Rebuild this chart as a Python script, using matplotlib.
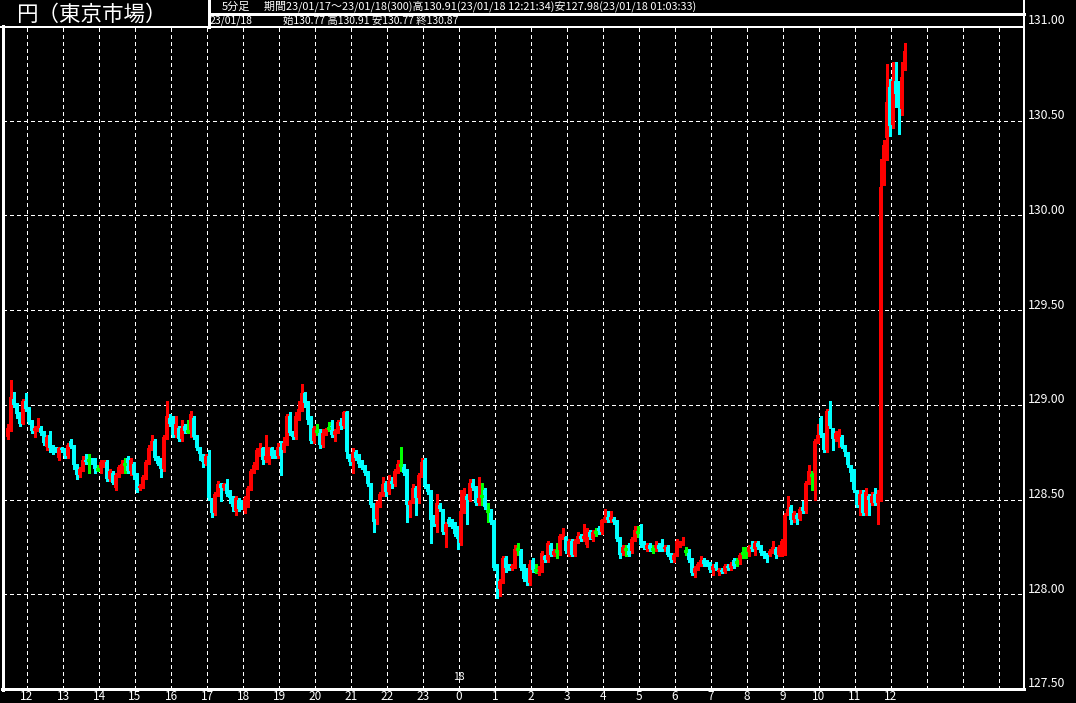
import numpy as np
import matplotlib
matplotlib.use('Agg')
import matplotlib.pyplot as plt
from matplotlib.lines import Line2D

plt.rcParams['font.family'] = ['Noto Sans CJK JP', 'DejaVu Sans']

# 5分足 23/01/17 11:25 ～ 23/01/18 12:20 (300本)
opens = [
    128.83, 128.88, 129.03, 128.99, 128.95, 128.90, 129.02, 128.97, 128.91, 128.86,
    128.87, 128.88, 128.85, 128.78, 128.84, 128.77, 128.77, 128.72, 128.77, 128.76,
    128.73, 128.81, 128.78, 128.68, 128.63, 128.66, 128.71, 128.71, 128.71, 128.71,
    128.66, 128.66, 128.69, 128.70, 128.61, 128.64, 128.56, 128.63, 128.65, 128.69,
    128.72, 128.65, 128.69, 128.63, 128.56, 128.57, 128.62, 128.70, 128.77, 128.81,
    128.72, 128.71, 128.66, 128.83, 128.93, 128.93, 128.84, 128.88, 128.82, 128.89,
    128.86, 128.86, 128.93, 128.83, 128.77, 128.73, 128.69, 128.73, 128.50, 128.43,
    128.53, 128.58, 128.56, 128.58, 128.53, 128.51, 128.44, 128.50, 128.49, 128.44,
    128.47, 128.56, 128.65, 128.68, 128.76, 128.77, 128.71, 128.73, 128.77, 128.75,
    128.73, 128.78, 128.76, 128.80, 128.94, 128.85, 128.83, 128.94, 128.98, 129.06,
    129.01, 128.93, 128.81, 128.86, 128.86, 128.79, 128.85, 128.88, 128.89, 128.84,
    128.86, 128.91, 128.89, 128.96, 128.73, 128.70, 128.75, 128.72, 128.70, 128.67,
    128.64, 128.58, 128.47, 128.40, 128.48, 128.53, 128.59, 128.54, 128.60, 128.58,
    128.65, 128.68, 128.68, 128.65, 128.47, 128.49, 128.56, 128.51, 128.63, 128.71,
    128.57, 128.54, 128.41, 128.37, 128.47, 128.44, 128.33, 128.40, 128.39, 128.37,
    128.35, 128.27, 128.44, 128.52, 128.50, 128.59, 128.56, 128.48, 128.52, 128.55,
    128.44, 128.44, 128.38, 128.15, 128.03, 128.07, 128.19, 128.15, 128.14, 128.15,
    128.24, 128.23, 128.15, 128.13, 128.06, 128.18, 128.13, 128.11, 128.14, 128.20,
    128.18, 128.26, 128.21, 128.23, 128.22, 128.30, 128.30, 128.21, 128.28, 128.21,
    128.28, 128.31, 128.29, 128.26, 128.33, 128.29, 128.33, 128.35, 128.33, 128.39,
    128.41, 128.39, 128.40, 128.38, 128.29, 128.22, 128.24, 128.26, 128.23, 128.29,
    128.33, 128.32, 128.27, 128.24, 128.26, 128.24, 128.24, 128.26, 128.26, 128.24,
    128.25, 128.21, 128.18, 128.21, 128.26, 128.27, 128.23, 128.23, 128.18, 128.11,
    128.14, 128.16, 128.18, 128.17, 128.16, 128.13, 128.16, 128.12, 128.13, 128.12,
    128.15, 128.14, 128.18, 128.17, 128.18, 128.22, 128.22, 128.21, 128.25, 128.24,
    128.27, 128.25, 128.22, 128.21, 128.21, 128.23, 128.24, 128.21, 128.25, 128.28,
    128.43, 128.46, 128.39, 128.42, 128.40, 128.46, 128.44, 128.59, 128.63, 128.64,
    128.81, 128.93, 128.84, 128.76, 128.97, 128.87, 128.82, 128.85, 128.83, 128.78,
    128.73, 128.67, 128.65, 128.54, 128.47, 128.53, 128.43, 128.52, 128.48, 128.53,
    128.48, 128.54, 130.17, 130.41, 130.68, 130.48, 130.71, 130.63, 130.56, 130.77,
]
highs = [
    128.90, 129.13, 129.07, 129.01, 128.96, 129.03, 129.06, 128.99, 128.92, 128.89,
    128.93, 128.89, 128.86, 128.84, 128.86, 128.79, 128.78, 128.78, 128.78, 128.77,
    128.80, 128.82, 128.79, 128.69, 128.67, 128.73, 128.74, 128.74, 128.72, 128.72,
    128.68, 128.71, 128.71, 128.71, 128.66, 128.65, 128.64, 128.68, 128.71, 128.72,
    128.73, 128.72, 128.70, 128.64, 128.58, 128.63, 128.71, 128.79, 128.84, 128.82,
    128.73, 128.72, 128.84, 129.02, 128.95, 128.94, 128.94, 128.89, 128.92, 128.90,
    128.92, 128.97, 128.94, 128.84, 128.78, 128.74, 128.74, 128.76, 128.51, 128.54,
    128.60, 128.59, 128.59, 128.61, 128.55, 128.52, 128.52, 128.51, 128.50, 128.52,
    128.57, 128.66, 128.70, 128.77, 128.80, 128.78, 128.84, 128.78, 128.78, 128.76,
    128.80, 128.81, 128.83, 128.95, 128.96, 128.86, 128.96, 129.02, 129.11, 129.07,
    129.02, 128.94, 128.89, 128.90, 128.87, 128.87, 128.88, 128.91, 128.92, 128.87,
    128.92, 128.93, 128.97, 128.97, 128.74, 128.77, 128.76, 128.74, 128.71, 128.68,
    128.65, 128.59, 128.48, 128.49, 128.54, 128.62, 128.60, 128.63, 128.62, 128.66,
    128.71, 128.78, 128.69, 128.66, 128.50, 128.58, 128.57, 128.64, 128.72, 128.72,
    128.58, 128.55, 128.42, 128.53, 128.48, 128.45, 128.38, 128.41, 128.40, 128.38,
    128.36, 128.55, 128.56, 128.53, 128.61, 128.61, 128.57, 128.62, 128.59, 128.56,
    128.48, 128.45, 128.39, 128.16, 128.08, 128.20, 128.20, 128.16, 128.16, 128.26,
    128.27, 128.24, 128.16, 128.14, 128.18, 128.19, 128.16, 128.15, 128.23, 128.21,
    128.28, 128.27, 128.24, 128.27, 128.32, 128.35, 128.31, 128.29, 128.29, 128.29,
    128.33, 128.32, 128.37, 128.35, 128.34, 128.34, 128.35, 128.36, 128.40, 128.45,
    128.44, 128.44, 128.41, 128.39, 128.30, 128.26, 128.26, 128.27, 128.30, 128.36,
    128.36, 128.37, 128.28, 128.27, 128.27, 128.26, 128.28, 128.27, 128.29, 128.26,
    128.26, 128.22, 128.22, 128.29, 128.28, 128.30, 128.25, 128.24, 128.19, 128.15,
    128.17, 128.20, 128.19, 128.18, 128.17, 128.16, 128.17, 128.14, 128.14, 128.16,
    128.16, 128.17, 128.19, 128.19, 128.22, 128.25, 128.25, 128.26, 128.28, 128.28,
    128.28, 128.26, 128.23, 128.22, 128.24, 128.28, 128.25, 128.26, 128.29, 128.43,
    128.52, 128.47, 128.44, 128.43, 128.46, 128.49, 128.60, 128.68, 128.65, 128.82,
    128.90, 128.94, 128.85, 128.98, 129.02, 128.88, 128.86, 128.87, 128.84, 128.79,
    128.75, 128.68, 128.66, 128.55, 128.55, 128.55, 128.56, 128.53, 128.54, 128.56,
    128.55, 130.30, 130.40, 130.80, 130.72, 130.81, 130.81, 130.71, 130.81, 130.91,
]
lows = [
    128.82, 128.86, 128.99, 128.93, 128.89, 128.90, 128.97, 128.90, 128.85, 128.83,
    128.86, 128.84, 128.79, 128.76, 128.75, 128.74, 128.75, 128.71, 128.75, 128.72,
    128.72, 128.77, 128.66, 128.61, 128.62, 128.65, 128.69, 128.64, 128.69, 128.64,
    128.65, 128.64, 128.67, 128.60, 128.60, 128.58, 128.55, 128.62, 128.64, 128.64,
    128.64, 128.63, 128.61, 128.54, 128.55, 128.56, 128.61, 128.69, 128.76, 128.71,
    128.68, 128.62, 128.65, 128.82, 128.89, 128.83, 128.83, 128.81, 128.81, 128.85,
    128.85, 128.83, 128.82, 128.76, 128.71, 128.67, 128.68, 128.50, 128.41, 128.42,
    128.52, 128.49, 128.55, 128.52, 128.48, 128.44, 128.42, 128.44, 128.45, 128.43,
    128.46, 128.55, 128.64, 128.66, 128.73, 128.69, 128.70, 128.69, 128.72, 128.72,
    128.72, 128.63, 128.75, 128.79, 128.84, 128.82, 128.82, 128.92, 128.97, 128.99,
    128.90, 128.80, 128.80, 128.84, 128.77, 128.78, 128.84, 128.86, 128.83, 128.81,
    128.85, 128.87, 128.88, 128.72, 128.68, 128.64, 128.71, 128.67, 128.66, 128.63,
    128.57, 128.46, 128.33, 128.37, 128.46, 128.52, 128.52, 128.53, 128.56, 128.57,
    128.64, 128.65, 128.63, 128.38, 128.41, 128.48, 128.42, 128.48, 128.62, 128.56,
    128.53, 128.27, 128.36, 128.33, 128.44, 128.32, 128.25, 128.36, 128.35, 128.31,
    128.24, 128.26, 128.43, 128.37, 128.49, 128.55, 128.47, 128.47, 128.47, 128.45,
    128.38, 128.37, 128.13, 127.98, 127.99, 128.06, 128.12, 128.13, 128.13, 128.14,
    128.21, 128.13, 128.07, 128.05, 128.05, 128.12, 128.11, 128.10, 128.12, 128.17,
    128.17, 128.20, 128.20, 128.19, 128.21, 128.29, 128.22, 128.20, 128.20, 128.20,
    128.27, 128.28, 128.28, 128.25, 128.29, 128.28, 128.31, 128.32, 128.32, 128.38,
    128.38, 128.38, 128.37, 128.28, 128.19, 128.21, 128.20, 128.20, 128.22, 128.28,
    128.30, 128.25, 128.24, 128.23, 128.23, 128.22, 128.23, 128.23, 128.23, 128.23,
    128.20, 128.17, 128.17, 128.20, 128.25, 128.26, 128.21, 128.17, 128.10, 128.09,
    128.13, 128.15, 128.15, 128.15, 128.12, 128.10, 128.13, 128.10, 128.11, 128.11,
    128.13, 128.13, 128.14, 128.15, 128.16, 128.19, 128.19, 128.20, 128.23, 128.21,
    128.24, 128.21, 128.19, 128.17, 128.20, 128.22, 128.19, 128.20, 128.20, 128.21,
    128.42, 128.37, 128.38, 128.37, 128.39, 128.43, 128.43, 128.58, 128.55, 128.50,
    128.80, 128.83, 128.75, 128.75, 128.88, 128.76, 128.81, 128.78, 128.77, 128.73,
    128.67, 128.60, 128.54, 128.46, 128.42, 128.42, 128.42, 128.42, 128.47, 128.47,
    128.37, 128.49, 130.16, 130.29, 130.42, 130.46, 130.57, 130.43, 130.53, 130.77,
]
closes = [
    128.88, 129.04, 129.00, 128.95, 128.90, 129.02, 128.98, 128.91, 128.86, 128.88,
    128.88, 128.85, 128.80, 128.83, 128.77, 128.76, 128.76, 128.77, 128.76, 128.73,
    128.79, 128.78, 128.68, 128.63, 128.66, 128.71, 128.70, 128.71, 128.70, 128.66,
    128.66, 128.70, 128.70, 128.61, 128.65, 128.59, 128.63, 128.67, 128.69, 128.69,
    128.65, 128.71, 128.63, 128.55, 128.57, 128.62, 128.70, 128.77, 128.81, 128.72,
    128.69, 128.66, 128.83, 128.94, 128.90, 128.84, 128.90, 128.82, 128.88, 128.86,
    128.86, 128.95, 128.83, 128.77, 128.74, 128.70, 128.73, 128.51, 128.43, 128.53,
    128.58, 128.56, 128.58, 128.53, 128.51, 128.46, 128.51, 128.45, 128.46, 128.51,
    128.56, 128.65, 128.68, 128.76, 128.77, 128.71, 128.73, 128.77, 128.73, 128.73,
    128.78, 128.73, 128.80, 128.94, 128.85, 128.83, 128.94, 128.98, 129.06, 129.01,
    128.92, 128.81, 128.88, 128.86, 128.79, 128.85, 128.87, 128.88, 128.84, 128.86,
    128.91, 128.89, 128.96, 128.75, 128.70, 128.75, 128.72, 128.69, 128.67, 128.64,
    128.58, 128.47, 128.38, 128.48, 128.53, 128.58, 128.54, 128.60, 128.58, 128.65,
    128.69, 128.68, 128.64, 128.47, 128.49, 128.56, 128.51, 128.63, 128.70, 128.57,
    128.54, 128.39, 128.37, 128.48, 128.45, 128.33, 128.37, 128.37, 128.37, 128.32,
    128.29, 128.44, 128.52, 128.50, 128.59, 128.56, 128.48, 128.51, 128.52, 128.46,
    128.44, 128.38, 128.14, 128.13, 128.07, 128.19, 128.14, 128.14, 128.15, 128.24,
    128.24, 128.14, 128.08, 128.10, 128.16, 128.13, 128.13, 128.14, 128.22, 128.18,
    128.27, 128.21, 128.23, 128.23, 128.31, 128.31, 128.23, 128.28, 128.21, 128.28,
    128.31, 128.29, 128.31, 128.33, 128.30, 128.33, 128.33, 128.33, 128.39, 128.41,
    128.39, 128.41, 128.38, 128.29, 128.21, 128.25, 128.24, 128.21, 128.29, 128.34,
    128.33, 128.26, 128.25, 128.26, 128.24, 128.24, 128.26, 128.24, 128.24, 128.25,
    128.21, 128.18, 128.21, 128.28, 128.27, 128.28, 128.23, 128.18, 128.11, 128.14,
    128.16, 128.18, 128.16, 128.16, 128.13, 128.15, 128.14, 128.13, 128.12, 128.15,
    128.14, 128.16, 128.15, 128.17, 128.21, 128.22, 128.22, 128.25, 128.24, 128.27,
    128.25, 128.22, 128.21, 128.20, 128.23, 128.25, 128.21, 128.25, 128.28, 128.42,
    128.45, 128.39, 128.43, 128.40, 128.45, 128.44, 128.59, 128.65, 128.63, 128.81,
    128.84, 128.84, 128.76, 128.97, 128.89, 128.82, 128.85, 128.86, 128.78, 128.75,
    128.68, 128.64, 128.55, 128.47, 128.53, 128.43, 128.54, 128.50, 128.52, 128.48,
    128.53, 130.15, 130.37, 130.60, 130.47, 130.71, 130.64, 130.58, 130.73, 130.87,
]

price_ticks = [131.00, 130.50, 130.00, 129.50, 129.00, 128.50, 128.00, 127.50]
hour_labels = ['12', '13', '14', '15', '16', '17', '18', '19', '20', '21', '22', '23',
               '0', '1', '2', '3', '4', '5', '6', '7', '8', '9', '10', '11', '12']

title = '円（東京市場）'
info_line1 = '期間23/01/17～23/01/18(300)高130.91(23/01/18 12:21:34)安127.98(23/01/18 01:03:33)'
info_line2 = '始130.77 高130.91 安130.77 終130.87'

W, H = 1076, 703
UP, DOWN, DOJI = '#ff0000', '#00ffff', '#00ff00'


def fx(px):
    return px / W


def fy(py):
    return 1 - py / H


def fig_line(fig, x0, y0, x1, y1, lw=1.0):
    fig.add_artist(Line2D([fx(x0), fx(x1)], [fy(y0), fy(y1)], transform=fig.transFigure,
                          color='white', lw=lw, antialiased=False))


fig = plt.figure(figsize=(W / 100, H / 100), dpi=100, facecolor='black')
ax = fig.add_axes([fx(3), fy(689), fx(1024) - fx(3), fy(26) - fy(689)])
ax.set_facecolor('black')
ax.set_xlim(-1.5, 338.83)
ax.set_ylim(127.50, 131.00)
ax.axis('off')

# grid
for p in price_ticks[1:-1]:
    ax.axhline(p, color='white', lw=0.8, ls=(0, (3.5, 3)), antialiased=False, zorder=1)
for h in range(28):
    ax.axvline(6.5 + 12 * h, color='white', lw=0.8, ls=(0, (3.5, 3)), antialiased=False, zorder=1)

o = np.array(opens)
c = np.array(closes)
hi = np.array(highs)
lo = np.array(lows)
x = np.arange(len(o))
cols = np.where(c > o, UP, np.where(c < o, DOWN, DOJI))

ax.vlines(x, lo, hi, colors=cols, lw=0.9, antialiased=False, zorder=2)
body = c != o
ax.bar(x[body], np.abs(c - o)[body], bottom=np.minimum(o, c)[body], width=0.92,
       color=cols[body], antialiased=False, zorder=3)
doji = ~body
ax.hlines(c[doji], x[doji] - 0.45, x[doji] + 0.45, colors=DOJI, lw=0.9,
          antialiased=False, zorder=3)

# frame
fig_line(fig, 0, 26.5, 1024, 26.5, lw=1.2)
fig_line(fig, 209, 13.5, 1024, 13.5, lw=1.0)
fig_line(fig, 209, 0, 209, 27, lw=1.0)
fig_line(fig, 1024, 0, 1024, 689, lw=1.2)
fig_line(fig, 2.5, 26, 2.5, 690, lw=1.8)
fig_line(fig, 2, 689, 1024, 689, lw=1.8)

# header
fig.text(fx(16), fy(14.5), title, color='white', fontsize=15.5, va='center', ha='left')
fig.text(fx(222), fy(6.5), '5分足', color='white', fontsize=8, va='center', ha='left')
fig.text(fx(264), fy(6.5), info_line1, color='white', fontsize=7.9, va='center', ha='left')
fig.text(fx(210), fy(20.5), '23/01/18', color='white', fontsize=7.5, va='center', ha='left')
fig.text(fx(283), fy(20.5), info_line2, color='white', fontsize=7.5, va='center', ha='left')

# price labels
for p in price_ticks:
    py = 26 + (131.00 - p) * 189.4
    fig.text(fx(1028), fy(py - 5), f'{p:.2f}', color='white', fontsize=8.8,
             va='center', ha='left')

# hour labels
for h, lab in enumerate(hour_labels):
    fig.text(fx(27 + 36 * h), fy(696), lab, color='white', fontsize=8.5,
             va='center', ha='center')
fig.text(fx(459), fy(677), '18', color='white', fontsize=7.5, va='center', ha='center')

fig.savefig('out.png', dpi=100, facecolor='black')
